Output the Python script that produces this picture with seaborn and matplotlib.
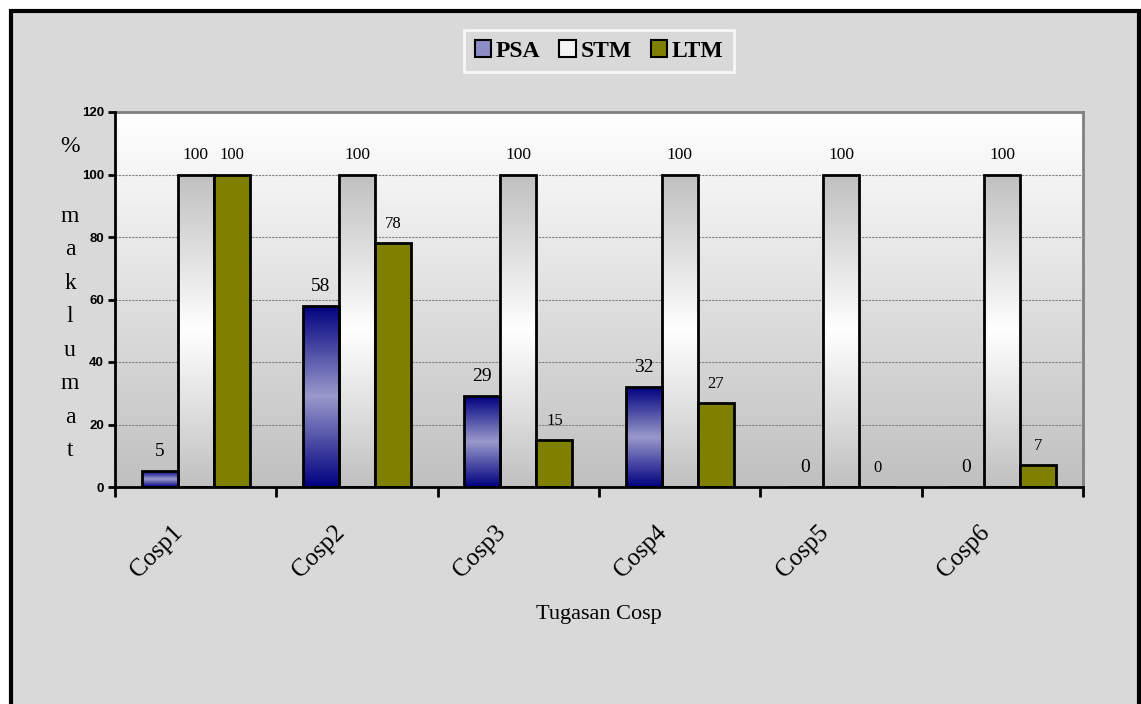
import numpy as np
import pandas as pd
import matplotlib
matplotlib.use("Agg")
import matplotlib.pyplot as plt
import matplotlib.transforms as mtransforms
from matplotlib.patches import Rectangle, Patch
from matplotlib.colors import LinearSegmentedColormap
import seaborn as sns

# ---- data ----
tasks = ["Cosp1", "Cosp2", "Cosp3", "Cosp4", "Cosp5", "Cosp6"]
series = ["PSA", "STM", "LTM"]
psa = [5, 58, 29, 32, 0, 0]
stm = [100, 100, 100, 100, 100, 100]
ltm = [100, 78, 15, 27, 0, 7]
y_ticks = [0, 20, 40, 60, 80, 100, 120]
y_label_chars = ["m", "a", "k", "l", "u", "m", "a", "t"]

df = pd.DataFrame({
    "task": tasks * 3,
    "series": [s for s in series for _ in tasks],
    "value": psa + stm + ltm,
})

SERIF = "Liberation Serif"
SANS = "Liberation Sans"
BG = "#d9d9d9"

sns.set_theme(style="white")
plt.rcParams["font.family"] = [SERIF, "DejaVu Sans"]
plt.rcParams["text.color"] = "black"
plt.rcParams["xtick.color"] = "black"
plt.rcParams["ytick.color"] = "black"

W, H = 1141, 704
fig = plt.figure(figsize=(W / 100, H / 100), dpi=100, facecolor="white")

# chart frame: grey panel with black border (bottom edge runs off the page)
fig.patches.append(Rectangle((10.5 / W, -0.05), (1139 - 10.5) / W, 1 + 0.05 - 10.5 / H,
                             transform=fig.transFigure, facecolor=BG,
                             edgecolor="black", linewidth=3, zorder=-5))

ax = fig.add_axes([115 / W, 1 - 487 / H, 968 / W, 375 / H])
ax.set_facecolor("none")

flat = {"PSA": "#8080c0", "STM": "#e0e0e0", "LTM": "#808000"}
sns.barplot(data=df, x="task", y="value", hue="series", order=tasks,
            hue_order=series, palette=flat, width=0.67, edgecolor="black",
            linewidth=2, saturation=1, legend=False, ax=ax, zorder=3)

ax.set_xlim(-0.5, 5.5)
ax.set_ylim(0, 120)

# plot-area background: white at the top fading to grey at the bottom
bg_cmap = LinearSegmentedColormap.from_list("bg", ["#ffffff", "#c0c0c0"])
grad = np.linspace(0, 1, 256).reshape(-1, 1)
ax.imshow(grad, cmap=bg_cmap, aspect="auto", extent=[-0.5, 5.5, 0, 120],
          origin="upper", zorder=0)

# gradient fills for the bars
fills = {
    "PSA": LinearSegmentedColormap.from_list("psa", ["#000080", "#9999cc", "#000080"]),
    "STM": LinearSegmentedColormap.from_list("stm", ["#c0c0c0", "#ffffff", "#c0c0c0"]),
}
for name, cont in zip(series, ax.containers):
    for bar in cont:
        bar.set_zorder(4)
        if name not in fills or bar.get_height() <= 0:
            continue
        x0, w, h = bar.get_x(), bar.get_width(), bar.get_height()
        bar.set_facecolor("none")
        im = ax.imshow(grad, cmap=fills[name], aspect="auto",
                       extent=[x0, x0 + w, 0, h], origin="upper", zorder=3)
        im.set_clip_path(bar)

ax.set_xlim(-0.5, 5.5)
ax.set_ylim(0, 120)

# value labels
label_size = {"PSA": 14, "STM": 12.5, "LTM": 12}
for name, cont in zip(series, ax.containers):
    ax.bar_label(cont, fmt="%g", padding=8, fontsize=label_size[name],
                 family=SERIF, color="black", zorder=6)

# grid and spines
ax.set_yticks(y_ticks)
for v in y_ticks[1:-1]:
    ax.axhline(v, color="#808080", linestyle=(0, (2, 1)), linewidth=0.8, zorder=1)
for s in ["left", "bottom"]:
    ax.spines[s].set_color("black")
    ax.spines[s].set_linewidth(2)
    ax.spines[s].set_zorder(7)
for s in ["top", "right"]:
    ax.spines[s].set_color("#808080")
    ax.spines[s].set_linewidth(2)

ax.tick_params(axis="y", which="major", direction="out", length=5, width=2,
               color="black", left=True, pad=3)
for t in ax.get_yticklabels():
    t.set_fontfamily(SANS)
    t.set_fontweight("bold")
    t.set_fontsize(9.5)
    t.set_color("black")

# x: ticks at group boundaries, rotated category names
ax.set_xticks(np.arange(-0.5, 6.0, 1.0), minor=True)
ax.tick_params(axis="x", which="minor", direction="out", length=7, width=2,
               color="black", bottom=True)
ax.tick_params(axis="x", which="major", length=0, pad=30)
ax.set_xticks(range(len(tasks)))
ax.set_xticklabels(tasks)
shift = mtransforms.ScaledTranslation(-16 / 100, 0, fig.dpi_scale_trans)
for t in ax.get_xticklabels():
    t.set_rotation(45)
    t.set_ha("right")
    t.set_va("center")
    t.set_rotation_mode("anchor")
    t.set_fontfamily(SERIF)
    t.set_fontsize(18)
    t.set_color("black")
    t.set_transform(t.get_transform() + shift)

ax.set_xlabel("")
ax.set_ylabel("")

fig.text(599 / W, 1 - 615 / H, "Tugasan Cosp", ha="center", va="center",
         fontsize=16, family=SERIF, color="black")

# stacked vertical axis title
fig.text(70 / W, 1 - 146 / H, "%", ha="center", va="center", fontsize=17,
         family=SERIF, color="black")
ys = np.linspace(216, 451, len(y_label_chars))
for ch, yy in zip(y_label_chars, ys):
    fig.text(70 / W, 1 - yy / H, ch, ha="center", va="center", fontsize=17,
             family=SERIF, color="black")

# legend
handles = [Patch(facecolor="#8c8cc6", edgecolor="black", linewidth=1.5),
           Patch(facecolor="#f4f4f4", edgecolor="black", linewidth=1.5),
           Patch(facecolor="#808000", edgecolor="black", linewidth=1.5)]
leg = fig.legend(handles, series, loc="center", bbox_to_anchor=(599 / W, 1 - 51 / H),
                 ncol=3, frameon=True, fancybox=False, handlelength=0.7,
                 handleheight=0.7, handletextpad=0.2, columnspacing=0.8,
                 borderpad=0.45, prop={"family": SERIF, "weight": "bold", "size": 17})
leg.get_frame().set_facecolor(BG)
leg.get_frame().set_edgecolor("white")
leg.get_frame().set_linewidth(2)
for t in leg.get_texts():
    t.set_color("black")

fig.savefig("out.png", dpi=100, facecolor="white")
